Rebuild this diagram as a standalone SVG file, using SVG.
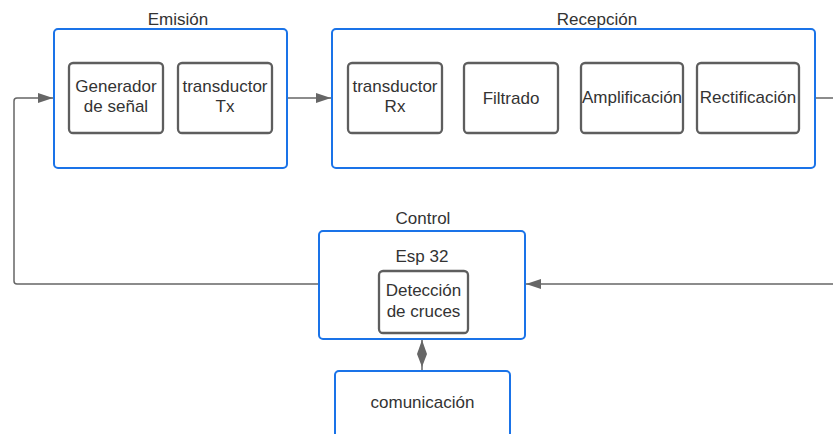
<svg xmlns="http://www.w3.org/2000/svg" width="833" height="434" viewBox="0 0 833 434">
<defs>
<style>
text{font-family:"Liberation Sans",Arial,sans-serif;font-size:17px;fill:#333;text-anchor:middle}
.c{fill:#fff;stroke:#1a73e8;stroke-width:2}
.b{fill:#fff;stroke:#5e5e5e;stroke-width:2.3}
.l{fill:none;stroke:#666;stroke-width:1.5}
</style>
<marker id="ah" markerWidth="15" markerHeight="10" refX="15" refY="5" orient="auto" markerUnits="userSpaceOnUse">
<path d="M0,0 L15,5 L0,10 Z" fill="#666"/>
</marker>
</defs>
<rect width="833" height="434" fill="#fff"/>
<g id="connectors">
<path class="l" d="M287,98 H331" marker-end="url(#ah)"/>
<path class="l" d="M815,98 H833"/>
<path class="l" d="M833,284 H526" marker-end="url(#ah)"/>
<path class="l" d="M319,284 H17 Q14,284 14,281 V101 Q14,98 17,98 H53" marker-end="url(#ah)"/>
<path class="l" d="M422,339 V371"/>
<polygon points="422,340 427,354 422,367 417,354" fill="#666"/>
</g>
<g id="emision">
<text x="178" y="25">Emisión</text>
<rect class="c" x="54" y="29" width="233" height="139" rx="4"/>
</g>
<g id="generador">
<rect class="b" x="69" y="63" width="94" height="70" rx="4"/>
<text x="116" y="91.5">Generador</text>
<text x="116" y="111.5">de señal</text>
</g>
<g id="transductor-tx">
<rect class="b" x="178" y="63" width="94" height="70" rx="4"/>
<text x="225" y="91.5">transductor</text>
<text x="225" y="111.5">Tx</text>
</g>
<g id="recepcion">
<text x="597" y="25">Recepción</text>
<rect class="c" x="332" y="29" width="483" height="139" rx="4"/>
</g>
<g id="transductor-rx">
<rect class="b" x="348" y="63" width="94" height="70" rx="4"/>
<text x="395" y="91.5">transductor</text>
<text x="395" y="111.5">Rx</text>
</g>
<g id="filtrado">
<rect class="b" x="464" y="63" width="94" height="70" rx="4"/>
<text x="511" y="104">Filtrado</text>
</g>
<g id="amplificacion">
<rect class="b" x="581" y="63" width="102" height="70" rx="4"/>
<text x="632" y="103">Amplificación</text>
</g>
<g id="rectificacion">
<rect class="b" x="697" y="63" width="102" height="70" rx="4"/>
<text x="748" y="103">Rectificación</text>
</g>
<g id="control">
<text x="423" y="224">Control</text>
<rect class="c" x="319" y="231" width="206" height="108" rx="4"/>
<text x="422" y="262">Esp 32</text>
</g>
<g id="deteccion">
<rect class="b" x="379" y="271" width="89" height="62" rx="4"/>
<text x="423.5" y="296">Detección</text>
<text x="423.5" y="317">de cruces</text>
</g>
<g id="comunicacion">
<rect class="c" x="335" y="371" width="175" height="80" rx="4"/>
<text x="422.5" y="408">comunicación</text>
</g>
</svg>
